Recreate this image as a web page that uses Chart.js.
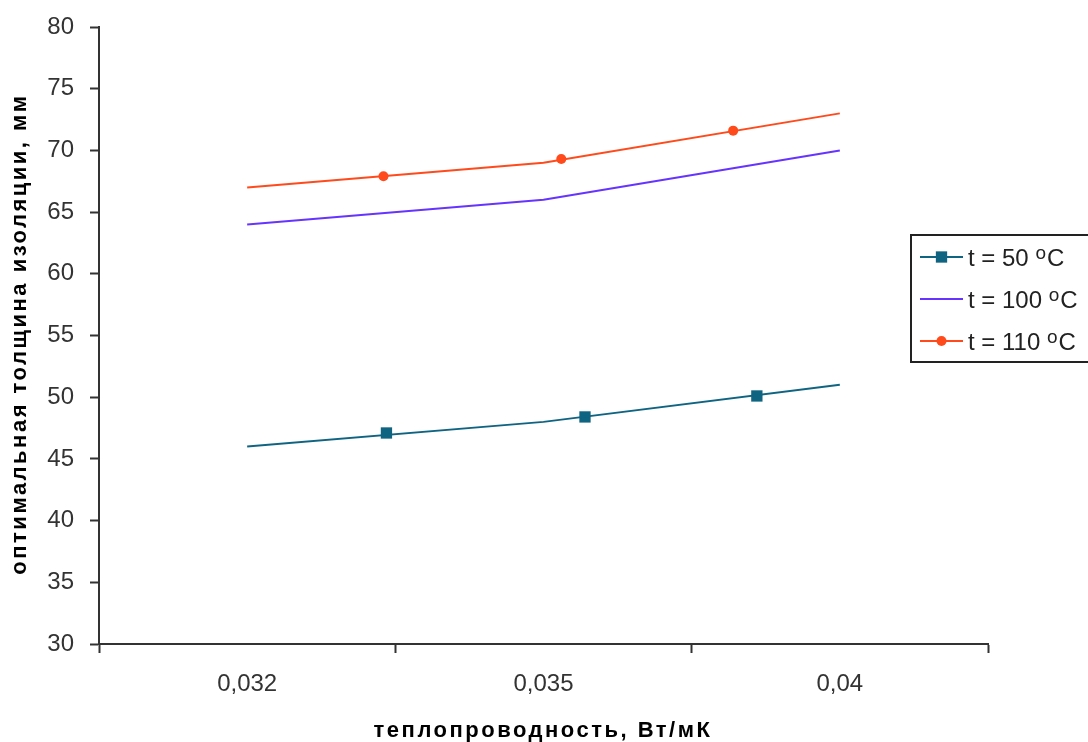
<!DOCTYPE html>
<html>
<head>
<meta charset="utf-8">
<script src="https://cdn.jsdelivr.net/npm/chart.js@4.4.1/dist/chart.umd.min.js"></script>
<style>
  html, body { margin: 0; padding: 0; background: #fff; overflow: hidden; }
  canvas { display: block; }
</style>
</head>
<body>
<canvas id="chart" width="1088" height="742"></canvas>
<script>
// Thermal conductivity categories and optimum insulation thickness, mm
const categories = ['0,032', '0,035', '0,04'];
const t50 = [46, 48, 51];
const t100 = [64, 66, 70];
const t110 = [67, 69, 73];

// Marker positions along the curves (x in category units)
const t50MarkerX = [0.47, 1.14, 1.72];
const t50MarkerY = [47.1, 48.4, 50.1];
const t110MarkerX = [0.46, 1.06, 1.64];
const t110MarkerY = [67.9, 69.3, 71.6];

const yMin = 30, yMax = 80, yStep = 5;
const xTitle = 'теплопроводность, Вт/мК';
const yTitle = 'оптимальная толщина изоляции, мм';
const seriesLabels = ['t = 50 оC', 't = 100 оC', 't = 110 оC'];

const C50 = '#0f6482';
const C100 = '#6633ff';
const C110 = '#ff4a1c';

const toPoints = (vals) => vals.map((v, i) => ({ x: i, y: v }));
const toMarkers = (xs, ys) => xs.map((x, i) => ({ x: x, y: ys[i] }));

const legendItems = [
  { label: seriesLabels[0], color: C50, marker: 'rect', radius: 8 },
  { label: seriesLabels[1], color: C100, marker: null },
  { label: seriesLabels[2], color: C110, marker: 'circle', radius: 5 }
];

const FONT = '"Liberation Sans", Arial, sans-serif';

const decor = {
  id: 'decor',
  afterDraw(chart) {
    const ctx = chart.ctx;
    // axis titles
    ctx.save();
    ctx.fillStyle = '#000';
    ctx.font = 'bold 22px ' + FONT;
    ctx.letterSpacing = '2.5px';
    ctx.textAlign = 'center';
    ctx.textBaseline = 'alphabetic';
    ctx.fillText(xTitle, 543, 737);
    ctx.translate(26, 334);
    ctx.rotate(-Math.PI / 2);
    ctx.fillText(yTitle, 0, 0);
    ctx.restore();

    // legend
    ctx.save();
    const bx = 911, by = 235, bw = 200, bh = 127;
    ctx.fillStyle = '#fff';
    ctx.fillRect(bx, by, bw, bh);
    ctx.strokeStyle = '#222';
    ctx.lineWidth = 2;
    ctx.strokeRect(bx, by, bw, bh);
    const rowY = [257, 299, 341];
    legendItems.forEach((it, i) => {
      const y = rowY[i];
      ctx.strokeStyle = it.color;
      ctx.lineWidth = 2;
      ctx.beginPath();
      ctx.moveTo(920, y);
      ctx.lineTo(963, y);
      ctx.stroke();
      if (it.marker) {
        ctx.fillStyle = it.color;
        Chart.helpers.drawPoint(ctx, { pointStyle: it.marker, radius: it.radius, rotation: 0, borderWidth: 0 }, 941.5, y);
      }
      // label with a raised degree letter
      const idx = it.label.indexOf('о');
      const head = it.label.slice(0, idx);
      const sup = it.label.slice(idx, idx + 1);
      const tail = it.label.slice(idx + 1);
      ctx.fillStyle = '#222';
      ctx.textBaseline = 'alphabetic';
      ctx.textAlign = 'left';
      ctx.font = '24px ' + FONT;
      let x = 968;
      const base = y + 9;
      ctx.fillText(head, x, base);
      x += ctx.measureText(head).width;
      ctx.font = '19px ' + FONT;
      ctx.fillText(sup, x, base - 7);
      x += ctx.measureText(sup).width + 1;
      ctx.font = '24px ' + FONT;
      ctx.fillText(tail, x, base);
    });
    ctx.restore();
  }
};

new Chart(document.getElementById('chart'), {
  type: 'line',
  data: {
    datasets: [
      { label: seriesLabels[0], data: toPoints(t50), borderColor: C50, borderWidth: 2, pointRadius: 0, tension: 0 },
      { label: seriesLabels[1], data: toPoints(t100), borderColor: C100, borderWidth: 2, pointRadius: 0, tension: 0 },
      { label: seriesLabels[2], data: toPoints(t110), borderColor: C110, borderWidth: 2, pointRadius: 0, tension: 0 },
      { label: 'm50', data: toMarkers(t50MarkerX, t50MarkerY), showLine: false, pointStyle: 'rect', pointRadius: 8, pointBackgroundColor: C50, pointBorderWidth: 0 },
      { label: 'm110', data: toMarkers(t110MarkerX, t110MarkerY), showLine: false, pointStyle: 'circle', pointRadius: 5, pointBackgroundColor: C110, pointBorderWidth: 0 }
    ]
  },
  options: {
    responsive: false,
    animation: false,
    devicePixelRatio: 1,
    layout: { padding: { top: 27, right: 100, left: 0, bottom: 0 } },
    plugins: { legend: { display: false }, tooltip: { enabled: false } },
    scales: {
      x: {
        type: 'linear',
        min: -0.5,
        max: 2.5,
        afterBuildTicks: (s) => { s.ticks = [-0.5, 0, 0.5, 1, 1.5, 2, 2.5].map(v => ({ value: v })); },
        afterFit: (s) => { s.height = 98; s.paddingLeft = 0; s.paddingRight = 0; },
        border: { color: '#333', width: 2 },
        grid: {
          drawOnChartArea: false,
          tickLength: 9,
          tickWidth: 2,
          tickColor: (c) => (c.tick && Number.isInteger(c.tick.value)) ? 'rgba(0,0,0,0)' : '#333'
        },
        ticks: {
          autoSkip: false,
          maxRotation: 0,
          padding: 17,
          color: '#333',
          font: { family: FONT, size: 24 },
          callback: (v) => Number.isInteger(v) ? categories[v] : ''
        }
      },
      y: {
        min: yMin,
        max: yMax,
        afterFit: (s) => { s.width = 99; s.paddingTop = 0; s.paddingBottom = 0; },
        border: { color: '#333', width: 2 },
        grid: { drawOnChartArea: false, tickLength: 9, tickWidth: 2, tickColor: '#333' },
        ticks: {
          stepSize: yStep,
          padding: 16,
          color: '#333',
          font: { family: FONT, size: 24 }
        }
      }
    }
  },
  plugins: [decor]
});
</script>
</body>
</html>
